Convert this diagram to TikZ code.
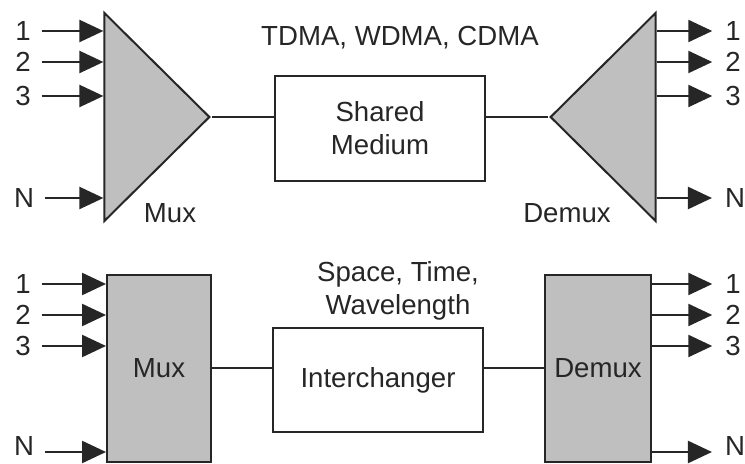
\documentclass[tikz,border=0pt]{standalone}
\usepackage{fontspec}
\setmainfont{Liberation Sans}
\usetikzlibrary{arrows.meta,positioning,shapes.geometric}
\definecolor{muxgray}{HTML}{BFBFBF}
\definecolor{ink}{HTML}{262626}

\begin{document}
\begin{tikzpicture}[x=0.5pt,y=-0.5pt,>={Triangle[length=12pt,width=11pt]},
    every node/.style={font=\fontsize{13.8}{16.5}\selectfont,text=ink},
    wire/.style={draw=ink,line width=1pt},
    feed/.style={->,draw=ink,line width=1.2pt},
    tri/.style={isosceles triangle,isosceles triangle stretches,draw=ink,line width=1pt,
        fill=muxgray,inner sep=0pt,minimum width=104pt,minimum height=52.5pt,anchor=apex},
    blk/.style={draw=ink,line width=1pt,fill=muxgray,minimum height=93.5pt},
    medium/.style={draw=ink,line width=1pt,fill=white,align=center,
        minimum width=105pt,minimum height=52.5pt}]
    \useasboundingbox (0,0) rectangle (745,464);
    % shared medium
    \node[tri] (muxA) at (212,117) {};
    \node[tri,shape border rotate=180] (demuxA) at (548,117) {};
    \node[medium] (shared) at (380,128.5) {Shared\\Medium};
    \node (tdma) at (400,38) {TDMA, WDMA, CDMA};
    \node (muxAlbl) at (170,213) {Mux};
    \node (demuxAlbl) at (567,213) {Demux};
    \draw[wire] (muxA.apex) -- (muxA.apex -| shared.west);
    \draw[wire] (shared.east |- demuxA.apex) -- (demuxA.apex);
    \node (a1) at (23,31) {1};
    \node (a2) at (23,62) {2};
    \node (a3) at (23,96) {3};
    \node (aN) at (24,198) {N};
    \draw[feed,shorten <=2pt] (a1) -- (a1 -| muxA.west);
    \draw[feed,shorten <=2pt] (a2) -- (a2 -| muxA.west);
    \draw[feed,shorten <=2pt] (a3) -- (a3 -| muxA.west);
    \draw[feed,shorten <=2pt] (aN) -- (aN -| muxA.west);
    \node (b1) at (733,31) {1};
    \node (b2) at (733,62) {2};
    \node (b3) at (733,96) {3};
    \node (bN) at (735,198) {N};
    \draw[feed,shorten >=3pt] (b1 -| demuxA.east) -- (b1);
    \draw[feed,shorten >=3pt] (b2 -| demuxA.east) -- (b2);
    \draw[feed,shorten >=3pt] (b3 -| demuxA.east) -- (b3);
    \draw[feed,shorten >=3pt] (bN -| demuxA.east) -- (bN);
    % interchanger
    \node[blk,minimum width=52pt] (muxB) at (159,368.5) {Mux};
    \node[blk,minimum width=53pt] (demuxB) at (598,368.5) {Demux};
    \node[medium,minimum height=52pt] (inter) at (378,380) {Interchanger};
    \node[align=center] (stw) at (398,291) {Space, Time,\\Wavelength};
    \draw[wire] (muxB.east) -- (muxB.east -| inter.west);
    \draw[wire] (inter.east |- demuxB.west) -- (demuxB.west);
    \node (c1) at (23,284) {1};
    \node (c2) at (23,315) {2};
    \node (c3) at (23,346) {3};
    \node (cN) at (24,446) {N};
    \draw[feed,shorten <=2pt] (c1) -- (c1 -| muxB.west);
    \draw[feed,shorten <=2pt] (c2) -- (c2 -| muxB.west);
    \draw[feed,shorten <=2pt] (c3) -- (c3 -| muxB.west);
    \draw[feed,shorten <=2pt] ([yshift=-3pt]cN.east) -- ([yshift=-3pt]cN.east -| muxB.west);
    \node (d1) at (733,284) {1};
    \node (d2) at (733,315) {2};
    \node (d3) at (733,346) {3};
    \node (dN) at (735,446) {N};
    \draw[feed,shorten >=3pt] (d1 -| demuxB.east) -- (d1);
    \draw[feed,shorten >=3pt] (d2 -| demuxB.east) -- (d2);
    \draw[feed,shorten >=3pt] (d3 -| demuxB.east) -- (d3);
    \draw[feed,shorten >=3pt] ([yshift=-3pt]dN.west -| demuxB.east) -- ([yshift=-3pt]dN.west);
\end{tikzpicture}
\end{document}
